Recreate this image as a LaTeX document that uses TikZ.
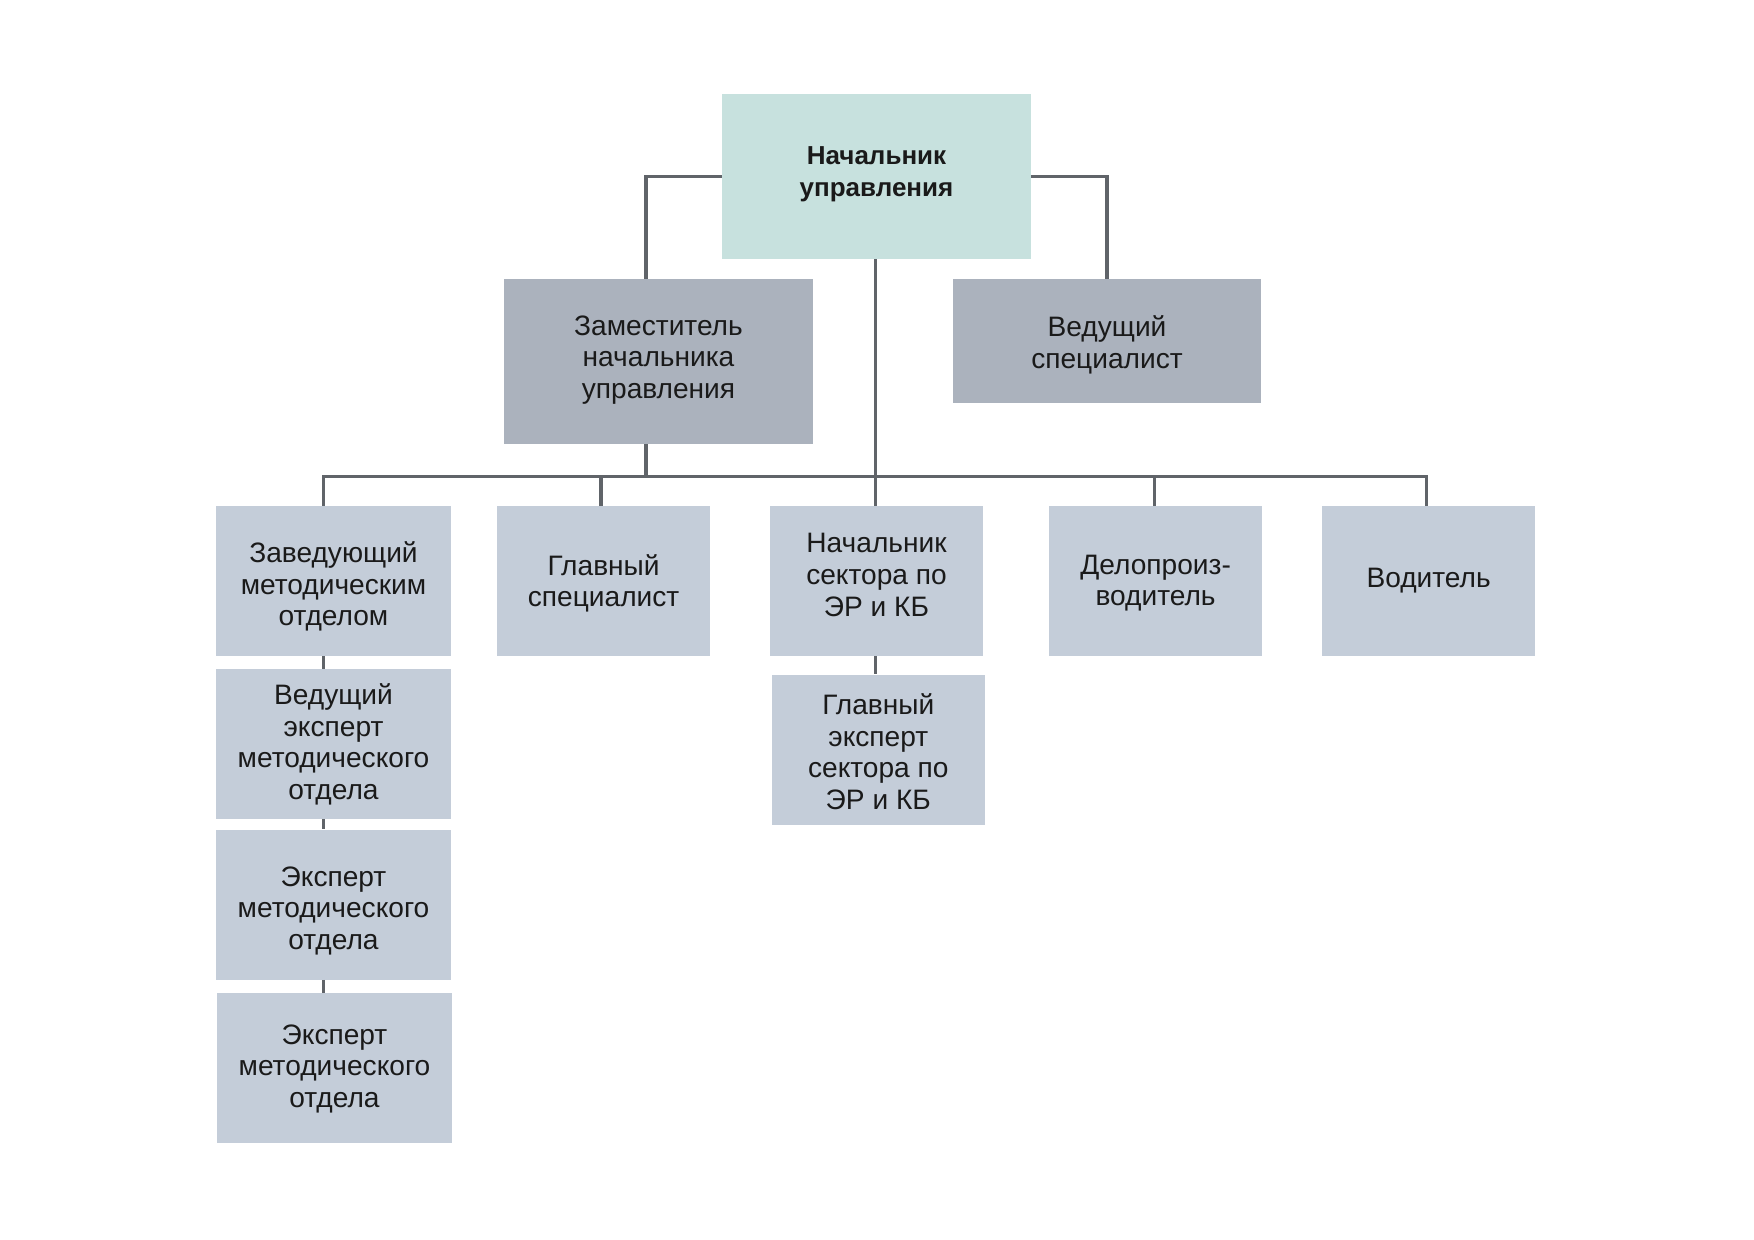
\documentclass[tikz,border=0pt]{standalone}
\usepackage{fontspec}
\setmainfont{Liberation Sans}
\definecolor{topc}{HTML}{C7E1DE}
\definecolor{midc}{HTML}{ABB2BD}
\definecolor{lowc}{HTML}{C4CDD9}
\definecolor{linec}{HTML}{606469}
\definecolor{txtc}{HTML}{1A1A1A}
\begin{document}
\begin{tikzpicture}[x=0.25mm,y=-0.25mm,
  txt/.style={inner sep=0pt,align=center,text=txtc,font=\fontsize{20}{22.5}\selectfont},
  btxt/.style={txt,font=\fontsize{18.5}{22.5}\selectfont\bfseries},
  box/.style={inner sep=0pt},
  topbox/.style={box,fill=topc,minimum width=309*0.25mm,minimum height=165*0.25mm},
  midbox/.style={box,fill=midc},
  lowbox/.style={box,fill=lowc,minimum height=150*0.25mm,minimum width=213*0.25mm},
  conn/.style={draw=linec,line width=2.35pt}]
\fill[white] (0,0) rectangle (1754,1240);
\useasboundingbox (0,0) rectangle (1754,1240);

\node[topbox,label={[btxt,yshift=0.55mm]center:{Начальник\\управления}}] (top) at (876.5,176.5) {};
\node[midbox,minimum width=309*0.25mm,minimum height=165*0.25mm,
  label={[txt,yshift=0.4mm]center:{Заместитель\\начальника\\управления}}] (dep) at (658.5,361.5) {};
\node[midbox,minimum width=308*0.25mm,minimum height=124*0.25mm,
  label={[txt,yshift=-1mm]center:{Ведущий\\специалист}}] (spec) at (1107,341) {};

\node[lowbox,minimum width=235*0.25mm,
  label={[txt,yshift=-1.4mm]center:{Заведующий\\методическим\\отделом}}] (b1) at (333.5,581) {};
\node[lowbox,minimum width=235*0.25mm,
  label={[txt,yshift=-0.1mm]center:{Ведущий\\эксперт\\методического\\отдела}}] (b1a) at (333.5,744) {};
\node[lowbox,minimum width=235*0.25mm,
  label={[txt,yshift=-1.6mm]center:{Эксперт\\методического\\отдела}}] (b1b) at (333.5,904.5) {};
\node[lowbox,minimum width=235*0.25mm,
  label={[txt,yshift=-0.2mm]center:{Эксперт\\методического\\отдела}}] (b1c) at (334.5,1068) {};
\node[lowbox,
  label={[txt,yshift=-0.55mm]center:{Главный\\специалист}}] (b2) at (603.6,581) {};
\node[lowbox,
  label={[txt,yshift=1.5mm]center:{Начальник\\сектора по\\ЭР и КБ}}] (b3) at (876.5,581) {};
\node[lowbox,
  label={[txt,yshift=-0.55mm]center:{Главный\\эксперт\\сектора по\\ЭР и КБ}}] (b3a) at (878.3,749.5) {};
\node[lowbox,
  label={[txt,yshift=-0.55mm]center:{Делопроиз-\\водитель}}] (b4) at (1155.6,581) {};
\node[lowbox,
  label={[txt]center:{Водитель}}] (b5) at (1428.6,581) {};

\coordinate (busL) at (323.6,476.5);
\coordinate (busR) at (1426.7,476.5);
\coordinate (busM) at (875.5,476.5);

% top-level links
\draw[conn] (top.west) -| (dep.north -| 646,0);
\draw[conn] (top.east) -| (spec.north);
\draw[conn] (top.south -| busM) -- (busM);
\draw[conn] (dep.south -| 646,0) -- (646,476.5);

% bus and drops
\draw[conn] (b1.north -| busL) -- (busL) -- (busR) -- (b5.north -| busR);
\draw[conn] (601,476.5) -- (b2.north -| 601,0);
\draw[conn] (busM) -- (b3.north -| busM);
\draw[conn] (1154.8,476.5) -- (b4.north -| 1154.8,0);

% chains
\draw[conn] (b1.south -| busL) -- (b1a.north -| busL);
\draw[conn] (b1a.south -| busL) -- (b1b.north -| busL);
\draw[conn] (b1b.south -| busL) -- (b1c.north -| busL);
\draw[conn] (b3.south -| busM) -- (b3a.north -| busM);
\end{tikzpicture}
\end{document}
